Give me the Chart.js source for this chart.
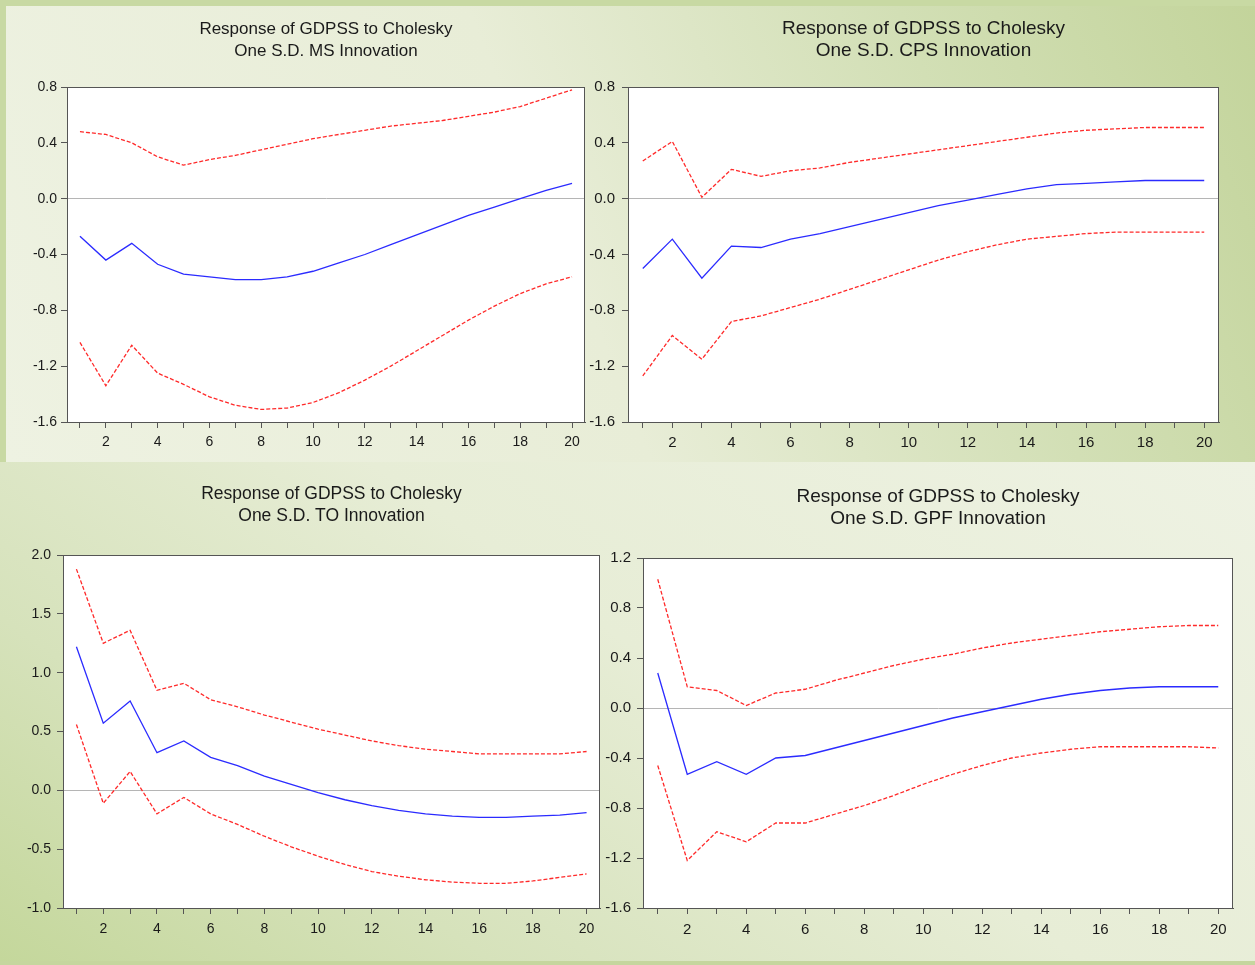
<!DOCTYPE html>
<html>
<head>
<meta charset="utf-8">
<script src="https://cdn.jsdelivr.net/npm/chart.js@4.4.1/dist/chart.umd.min.js"></script>
<style>
  html, body { margin: 0; padding: 0; }
  body { width: 1255px; height: 965px; position: relative; overflow: hidden; background: #e9eed9; }
  #bgTop {
    position: absolute; left: 0; top: 0; width: 1249px; height: 456px;
    border-top: 6px solid #c8d9a3; border-left: 6px solid #c8d9a3;
    background: linear-gradient(68deg, #eef2e2 0%, #e8edd7 45%, #d2dfb5 75%, #c3d49b 100%);
  }
  #bgBottom {
    position: absolute; left: 0; top: 462px; width: 1255px; height: 499px;
    border-bottom: 4px solid #c5d69e;
    background: linear-gradient(35deg, #c4d79b 0%, #d6e2bb 25%, #e7edd6 55%, #eef2e3 100%);
  }
  canvas { position: absolute; }
</style>
</head>
<body>
<div id="bgTop"></div>
<div id="bgBottom"></div>
<canvas id="ms" width="600" height="460" style="left:0px;top:0px"></canvas>
<canvas id="cps" width="660" height="460" style="left:585px;top:0px"></canvas>
<canvas id="to" width="612" height="490" style="left:0px;top:465px"></canvas>
<canvas id="gpf" width="655" height="490" style="left:600px;top:465px"></canvas>
<script>
// forecast horizon
const periods = [1, 2, 3, 4, 5, 6, 7, 8, 9, 10, 11, 12, 13, 14, 15, 16, 17, 18, 19, 20];

// response to MS
const msResp  = [-0.27, -0.44, -0.32, -0.47, -0.54, -0.56, -0.58, -0.58, -0.56, -0.52, -0.46, -0.40, -0.33, -0.26, -0.19, -0.12, -0.06, 0.00, 0.06, 0.11];
const msUpper = [0.48, 0.46, 0.40, 0.30, 0.24, 0.28, 0.31, 0.35, 0.39, 0.43, 0.46, 0.49, 0.52, 0.54, 0.56, 0.59, 0.62, 0.66, 0.72, 0.78];
const msLower = [-1.03, -1.34, -1.05, -1.25, -1.33, -1.42, -1.48, -1.51, -1.50, -1.46, -1.39, -1.30, -1.20, -1.09, -0.98, -0.87, -0.77, -0.68, -0.61, -0.56];

// response to CPS
const cpsResp  = [-0.50, -0.29, -0.57, -0.34, -0.35, -0.29, -0.25, -0.20, -0.15, -0.10, -0.05, -0.01, 0.03, 0.07, 0.10, 0.11, 0.12, 0.13, 0.13, 0.13];
const cpsUpper = [0.27, 0.41, 0.01, 0.21, 0.16, 0.20, 0.22, 0.26, 0.29, 0.32, 0.35, 0.38, 0.41, 0.44, 0.47, 0.49, 0.50, 0.51, 0.51, 0.51];
const cpsLower = [-1.27, -0.98, -1.15, -0.88, -0.84, -0.78, -0.72, -0.65, -0.58, -0.51, -0.44, -0.38, -0.33, -0.29, -0.27, -0.25, -0.24, -0.24, -0.24, -0.24];

// response to TO
const toResp  = [1.22, 0.57, 0.76, 0.32, 0.42, 0.28, 0.21, 0.12, 0.05, -0.02, -0.08, -0.13, -0.17, -0.20, -0.22, -0.23, -0.23, -0.22, -0.21, -0.19];
const toUpper = [1.88, 1.25, 1.36, 0.85, 0.91, 0.77, 0.71, 0.64, 0.58, 0.52, 0.47, 0.42, 0.38, 0.35, 0.33, 0.31, 0.31, 0.31, 0.31, 0.33];
const toLower = [0.56, -0.11, 0.16, -0.20, -0.06, -0.20, -0.29, -0.39, -0.48, -0.56, -0.63, -0.69, -0.73, -0.76, -0.78, -0.79, -0.79, -0.77, -0.74, -0.71];

// response to GPF
const gpfResp  = [0.28, -0.53, -0.43, -0.53, -0.40, -0.38, -0.32, -0.26, -0.20, -0.14, -0.08, -0.03, 0.02, 0.07, 0.11, 0.14, 0.16, 0.17, 0.17, 0.17];
const gpfUpper = [1.03, 0.17, 0.14, 0.02, 0.12, 0.15, 0.22, 0.28, 0.34, 0.39, 0.43, 0.48, 0.52, 0.55, 0.58, 0.61, 0.63, 0.65, 0.66, 0.66];
const gpfLower = [-0.46, -1.22, -0.99, -1.07, -0.92, -0.92, -0.85, -0.78, -0.70, -0.61, -0.53, -0.46, -0.40, -0.36, -0.33, -0.31, -0.31, -0.31, -0.31, -0.32];

const FONT = "'Liberation Sans', Arial, sans-serif";

// white plot area + dark frame round it
const plotBox = {
    id: 'plotBox',
    beforeDraw(chart) {
        const a = chart.chartArea, ctx = chart.ctx;
        ctx.save();
        ctx.fillStyle = '#ffffff';
        ctx.fillRect(a.left, a.top, a.right - a.left, a.bottom - a.top);
        ctx.restore();
    },
    afterDraw(chart) {
        const a = chart.chartArea, ctx = chart.ctx;
        ctx.save();
        ctx.strokeStyle = '#555555';
        ctx.lineWidth = 1;
        ctx.strokeRect(a.left + 0.5, a.top + 0.5, a.right - a.left - 1, a.bottom - a.top);
        ctx.restore();
    }
};

function pts(values) {
    return periods.map((p, i) => ({ x: p, y: values[i] }));
}

function makeChart(id, name, resp, upper, lower, o) {
    return new Chart(document.getElementById(id), {
        type: 'line',
        data: {
            datasets: [
                { data: pts(upper), borderColor: '#ff2a2a', borderWidth: 1.3, borderDash: [4, 2], pointRadius: 0, tension: 0 },
                { data: pts(lower), borderColor: '#ff2a2a', borderWidth: 1.3, borderDash: [4, 2], pointRadius: 0, tension: 0 },
                { data: pts(resp), borderColor: '#2b2bff', borderWidth: 1.3, pointRadius: 0, tension: 0 }
            ]
        },
        options: {
            responsive: false,
            animation: false,
            devicePixelRatio: 1,
            layout: { padding: { left: 0, right: o.padRight, top: 0, bottom: o.padBottom } },
            plugins: {
                legend: { display: false },
                tooltip: { enabled: false },
                title: {
                    display: true,
                    fullSize: false,
                    text: ['Response of GDPSS to Cholesky', 'One S.D. ' + name + ' Innovation'],
                    color: '#1a1a1a',
                    font: { family: FONT, size: o.titleSize, weight: 'normal', lineHeight: '22px' },
                    padding: { top: o.titleTop, bottom: o.titleBottom }
                }
            },
            scales: {
                x: {
                    type: 'linear',
                    min: 0.5,
                    max: 20.5,
                    afterBuildTicks: (scale) => { scale.ticks = periods.map(v => ({ value: v })); },
                    afterFit: (scale) => { scale.height = 30; },
                    ticks: {
                        autoSkip: false,
                        maxRotation: 0,
                        padding: o.xPad,
                        color: '#1a1a1a',
                        font: { family: FONT, size: o.tickSize },
                        callback: (v) => (v % 2 === 0 ? String(v) : '')
                    },
                    grid: { drawOnChartArea: false, tickLength: 6, tickColor: '#555555' },
                    border: { color: '#555555' }
                },
                y: {
                    min: o.yMin,
                    max: o.yMax,
                    afterFit: (scale) => { scale.width = o.yWidth; },
                    ticks: {
                        stepSize: o.yStep,
                        padding: o.yPad,
                        color: '#1a1a1a',
                        font: { family: FONT, size: o.tickSize },
                        callback: (v) => (Math.abs(v) < 1e-9 ? '0.0' : v.toFixed(1))
                    },
                    grid: {
                        color: (c) => (Math.abs(c.tick.value) < 1e-9 ? '#b5b5b5' : 'rgba(0,0,0,0)'),
                        tickLength: 6,
                        tickColor: '#555555'
                    },
                    border: { color: '#555555' }
                }
            }
        },
        plugins: [plotBox]
    });
}

makeChart('ms', 'MS', msResp, msUpper, msLower, {
    yMin: -1.6, yMax: 0.8, yStep: 0.4, yWidth: 67, padRight: 15, padBottom: 8,
    titleSize: 17, titleTop: 18, titleBottom: 25, tickSize: 14, xPad: 6, yPad: 4
});
makeChart('cps', 'CPS', cpsResp, cpsUpper, cpsLower, {
    yMin: -1.6, yMax: 0.8, yStep: 0.4, yWidth: 43, padRight: 26, padBottom: 8,
    titleSize: 19, titleTop: 18, titleBottom: 25, tickSize: 15, xPad: 6, yPad: 7
});
makeChart('to', 'TO', toResp, toUpper, toLower, {
    yMin: -1.0, yMax: 2.0, yStep: 0.5, yWidth: 63, padRight: 12, padBottom: 17,
    titleSize: 17.5, titleTop: 18, titleBottom: 28, tickSize: 14, xPad: 7, yPad: 6
});
makeChart('gpf', 'GPF', gpfResp, gpfUpper, gpfLower, {
    yMin: -1.6, yMax: 1.2, yStep: 0.4, yWidth: 43, padRight: 22, padBottom: 17,
    titleSize: 19, titleTop: 21, titleBottom: 28, tickSize: 15, xPad: 7, yPad: 6
});
</script>
</body>
</html>
